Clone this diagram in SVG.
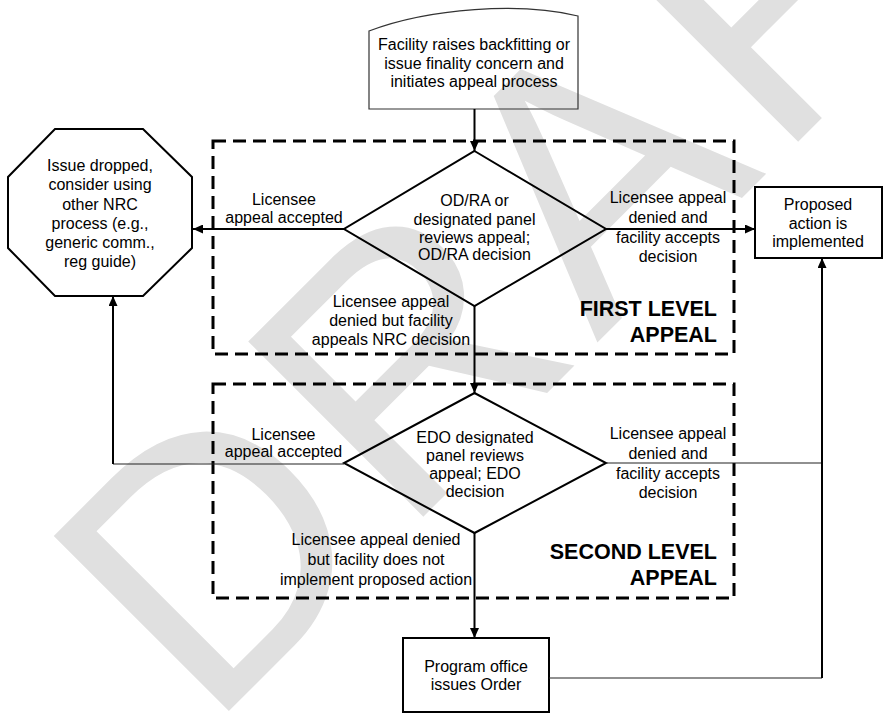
<svg xmlns="http://www.w3.org/2000/svg" width="883" height="714" viewBox="0 0 883 714">
<style>
.t{font-family:"Liberation Sans",Arial,sans-serif;font-size:16px;fill:#000;text-anchor:middle}
.b{font-family:"Liberation Sans",Arial,sans-serif;font-size:21.5px;font-weight:bold;fill:#000;text-anchor:end}
.shape{fill:none;stroke:#000;stroke-width:2}
.zone{fill:none;stroke:#000;stroke-width:3;stroke-dasharray:13 7}
.main{fill:none;stroke:#000;stroke-width:2}
.thin{fill:none;stroke:#222;stroke-width:1.2}
.wm{font-family:"Liberation Sans",Arial,sans-serif;font-size:360px;fill:#e0e0e0;letter-spacing:15px}
</style>
<defs>
<marker id="arr" markerUnits="userSpaceOnUse" markerWidth="10" markerHeight="9" refX="10" refY="4.5" orient="auto">
<path d="M0,0 L10,4.5 L0,9 z" fill="#000"/>
</marker>
</defs>
<rect width="883" height="714" fill="#fff"/>
<text id="watermark" class="wm" transform="translate(208,732) rotate(-45)" x="0" y="0">DRAFT</text>

<g id="zone1"><rect class="zone" x="213" y="141" width="521" height="213"/>
<text class="b" x="717" y="316">FIRST LEVEL</text><text class="b" x="717" y="342">APPEAL</text></g>
<g id="zone2"><rect class="zone" x="213" y="384" width="521" height="214"/>
<text class="b" x="717" y="559">SECOND LEVEL</text><text class="b" x="717" y="585">APPEAL</text></g>

<g id="start">
<path d="M369,31 C430,8 520,2 578,16 L578,109 L369,109 Z" fill="none" stroke="#333" stroke-width="1.2"/>
<text class="t" x="474" y="50">Facility raises backfitting or</text>
<text class="t" x="474" y="68.5">issue finality concern and</text>
<text class="t" x="474" y="87">initiates appeal process</text>
</g>

<g id="decision1">
<polygon class="shape" points="474.5,151 606,229 474.5,306 344,229"/>
<text class="t" x="474.5" y="206">OD/RA or</text>
<text class="t" x="474.5" y="225">designated panel</text>
<text class="t" x="474.5" y="243">reviews appeal;</text>
<text class="t" x="474.5" y="260">OD/RA decision</text>
</g>

<g id="decision2">
<polygon class="shape" points="474.5,393 606,463 474.5,533 344,463"/>
<text class="t" x="475" y="443">EDO designated</text>
<text class="t" x="475" y="461">panel reviews</text>
<text class="t" x="475" y="479">appeal; EDO</text>
<text class="t" x="475" y="497">decision</text>
</g>

<g id="dropped">
<polygon class="shape" points="55,129 143,129 192,177 192,248 143,296 55,296 8,248 8,177"/>
<text class="t" x="100" y="171">Issue dropped,</text>
<text class="t" x="100" y="190">consider using</text>
<text class="t" x="100" y="210">other NRC</text>
<text class="t" x="100" y="229">process (e.g.,</text>
<text class="t" x="100" y="248">generic comm.,</text>
<text class="t" x="100" y="267">reg guide)</text>
</g>

<g id="implemented">
<rect class="shape" x="755" y="187" width="127" height="71"/>
<text class="t" x="818" y="210">Proposed</text>
<text class="t" x="818" y="229">action is</text>
<text class="t" x="818" y="247">implemented</text>
</g>

<g id="order">
<rect class="shape" x="403" y="638" width="146" height="74"/>
<text class="t" x="476" y="672">Program office</text>
<text class="t" x="476" y="690">issues Order</text>
</g>

<g id="connectors">
<path class="main" d="M474.5,109 V151" marker-end="url(#arr)"/>
<path class="main" d="M344,229 H193" marker-end="url(#arr)"/>
<path class="main" d="M606,229 H755" marker-end="url(#arr)"/>
<path class="main" d="M474.5,306 V393" marker-end="url(#arr)"/>
<path class="main" d="M474.5,533 V638" marker-end="url(#arr)"/>
<path class="thin" d="M344,464 H113"/>
<path class="main" d="M113,464 V296" stroke-width="1.6" marker-end="url(#arr)"/>
<path class="thin" d="M606,463 H822"/>
<path class="thin" d="M549,678 H822"/>
<path class="main" d="M822,678 V258" marker-end="url(#arr)"/>
</g>

<g id="labels">
<text class="t" x="284" y="205">Licensee</text>
<text class="t" x="284" y="223">appeal accepted</text>
<text class="t" x="668" y="203">Licensee appeal</text>
<text class="t" x="668" y="223">denied and</text>
<text class="t" x="668" y="243">facility accepts</text>
<text class="t" x="668" y="262">decision</text>
<text class="t" x="391" y="307">Licensee appeal</text>
<text class="t" x="391" y="326">denied but facility</text>
<text class="t" x="391" y="345">appeals NRC decision</text>
<text class="t" x="283.5" y="440">Licensee</text>
<text class="t" x="283.5" y="457">appeal accepted</text>
<text class="t" x="668" y="439">Licensee appeal</text>
<text class="t" x="668" y="459">denied and</text>
<text class="t" x="668" y="479">facility accepts</text>
<text class="t" x="668" y="498">decision</text>
<text class="t" x="376" y="545">Licensee appeal denied</text>
<text class="t" x="376" y="565">but facility does not</text>
<text class="t" x="376" y="585">implement proposed action</text>
</g>
</svg>
